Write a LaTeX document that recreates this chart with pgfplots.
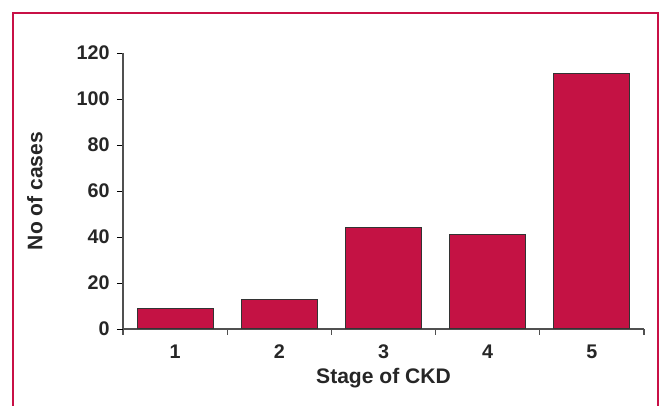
\documentclass[border=0pt]{standalone}
\usepackage{fontspec}
\setmainfont{Liberation Sans}
\usepackage{pgfplots}
\pgfplotsset{compat=1.18}
\definecolor{barred}{RGB}{196,18,68}
\definecolor{framered}{RGB}{200,16,70}
\definecolor{axgray}{RGB}{80,80,80}
\begin{document}
\begin{tikzpicture}[x=0.75pt,y=0.75pt]
\useasboundingbox (0,0) rectangle (661,406);
\draw[framered, line width=1.6pt] (13,0) -- (13,393) -- (658,393) -- (658,0);
\begin{axis}[
  at={(123*0.75pt,77*0.75pt)}, anchor=south west,
  scale only axis,
  width=390.75pt, height=207pt,
  xmin=0.5, xmax=5.5, ymin=0, ymax=120,
  axis lines*=left,
  axis line style={axgray, line width=0.8pt},
  xtick={1,2,3,4,5},
  minor xtick={0.5,1.5,2.5,3.5,4.5,5.5},
  ytick={0,20,40,60,80,100,120},
  tick align=outside,
  major tick length=4.5pt,
  minor tick length=4.5pt,
  x tick style={draw=none},
  minor x tick style={draw=axgray, line width=0.8pt},
  y tick style={black, line width=0.6pt},
  /pgf/number format/assume math mode=true,
  tick label style={font=\fontsize{14.8}{17}\selectfont\bfseries, text=black!85},
  xticklabel style={yshift=-4pt},
  yticklabel style={xshift=-2pt},
  every axis y label/.style={at={(axis description cs:-0.169,0.5)}, rotate=90, anchor=center},
  every axis x label/.style={at={(axis description cs:0.5,-0.178)}, anchor=center},
  label style={font=\fontsize{15.8}{18}\selectfont\bfseries, text=black!85},
  xlabel={Stage of CKD},
  ylabel={No of cases},
  ybar, bar width=0.73,
]
\addplot[fill=barred, draw=black!80, line width=0.8pt] coordinates {(1,9) (2,13) (3,44) (4,41) (5,111)};
\end{axis}
\end{tikzpicture}
\end{document}
